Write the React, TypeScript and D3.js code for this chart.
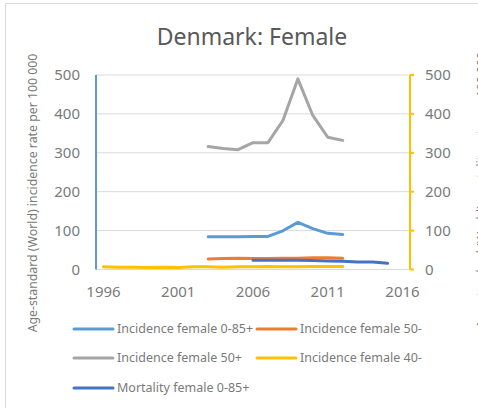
import React, { useEffect, useRef } from "react";
import * as d3 from "d3";

const years = d3.range(1996, 2017).map(String);
const yTicks = [0, 100, 200, 300, 400, 500];
const xTickLabels = ["1996", "2001", "2006", "2011", "2016"];

const years0385 = ["2003", "2004", "2005", "2006", "2007", "2008", "2009", "2010", "2011", "2012"];
const incidence085 = [84, 84, 84.5, 85, 85, 99.5, 121, 105, 93, 90];
const incidence50minus = [27, 28, 29, 28, 28, 29, 29, 30, 30, 29];
const incidence50plus = [316, 311, 308, 326, 326, 383, 490, 396, 340, 332];

const years40 = d3.range(1996, 2013).map(String);
const incidence40minus = [7, 6, 6, 5, 6, 5, 7, 7, 6, 7, 7, 8, 7, 7, 8, 8, 8];

const yearsMort = d3.range(2006, 2016).map(String);
const mortality085 = [24, 24, 24, 24, 23, 22, 21, 19, 19, 16];

const seriesNames = [
  "Incidence female 0-85+",
  "Incidence female 50-",
  "Incidence female 50+",
  "Incidence female 40-",
  "Mortality female 0-85+",
];
const colors = ["#5b9bd5", "#ed7d31", "#a5a5a5", "#ffc000", "#4472c4"];

const FONT = "'Noto Sans', 'Open Sans', sans-serif";

const App = () => {
  const ref = useRef<SVGSVGElement | null>(null);

  useEffect(() => {
    const svg = d3.select(ref.current);
    svg.selectAll("*").remove();

    const left = 96;
    const right = 410;
    const top = 75;
    const bottom = 269.5;

    const x = d3.scaleBand().domain(years).range([left, right]);
    const y = d3.scaleLinear().domain([0, 500]).range([bottom, top]);
    const cx = (d: string) => (x(d) as number) + x.bandwidth() / 2;

    // chart frame (left + top edge visible)
    svg.append("line").attr("x1", 5.5).attr("x2", 5.5).attr("y1", 3).attr("y2", 408)
      .attr("stroke", "#d9d9d9");
    svg.append("line").attr("x1", 5).attr("x2", 478).attr("y1", 3.5).attr("y2", 3.5)
      .attr("stroke", "#d9d9d9");

    svg.append("text")
      .attr("x", 252).attr("y", 45)
      .attr("text-anchor", "middle")
      .attr("font-family", FONT).attr("font-size", 23)
      .attr("fill", "#595959")
      .text("Denmark: Female");

    // gridlines
    svg.selectAll(".grid").data(yTicks.slice(1)).enter().append("line")
      .attr("x1", left).attr("x2", right)
      .attr("y1", (d) => y(d)).attr("y2", (d) => y(d))
      .attr("stroke", "#d9d9d9").attr("stroke-width", 1);
    svg.append("line").attr("x1", left).attr("x2", right).attr("y1", bottom).attr("y2", bottom)
      .attr("stroke", "#d9d9d9");

    // left axis
    svg.append("line").attr("x1", left).attr("x2", left).attr("y1", top).attr("y2", bottom)
      .attr("stroke", colors[0]).attr("stroke-width", 2);
    svg.selectAll(".ly").data(yTicks).enter().append("text")
      .attr("x", 80).attr("y", (d) => y(d))
      .attr("dy", "0.35em").attr("text-anchor", "end")
      .attr("font-family", FONT).attr("font-size", 15).attr("fill", "#7a7a7a")
      .text((d) => d);

    // right axis
    svg.append("line").attr("x1", right).attr("x2", right).attr("y1", top).attr("y2", bottom)
      .attr("stroke", colors[3]).attr("stroke-width", 2);
    svg.selectAll(".rt").data(yTicks).enter().append("line")
      .attr("x1", right).attr("x2", right + 4)
      .attr("y1", (d) => y(d)).attr("y2", (d) => y(d))
      .attr("stroke", colors[3]).attr("stroke-width", 2);
    svg.selectAll(".ry").data(yTicks).enter().append("text")
      .attr("x", 425).attr("y", (d) => y(d))
      .attr("dy", "0.35em").attr("text-anchor", "start")
      .attr("font-family", FONT).attr("font-size", 15).attr("fill", "#7a7a7a")
      .text((d) => d);

    // x labels
    svg.selectAll(".xl").data(xTickLabels).enter().append("text")
      .attr("x", (d) => cx(d)).attr("y", 292)
      .attr("dy", "0.35em").attr("text-anchor", "middle")
      .attr("font-family", FONT).attr("font-size", 15).attr("fill", "#7a7a7a")
      .text((d) => d);

    // axis titles (right one is cut by the image edge, as in the source)
    svg.append("text")
      .attr("transform", "translate(33,193) rotate(-90)")
      .attr("dy", "0.35em").attr("text-anchor", "middle")
      .attr("font-family", FONT).attr("font-size", 12.3).attr("fill", "#7a7a7a")
      .text("Age-standard (World) incidence rate per 100 000");
    svg.append("text")
      .attr("transform", "translate(482,190) rotate(-90)")
      .attr("dy", "0.35em").attr("text-anchor", "middle")
      .attr("font-family", FONT).attr("font-size", 12.3).attr("fill", "#7a7a7a")
      .text("Age-standard (World) mortality rate per 100 000");

    const line = d3.line<[string, number]>()
      .x((d) => cx(d[0]))
      .y((d) => y(d[1]));

    const series: [string, number][][] = [
      years0385.map((d, i) => [d, incidence085[i]]),
      years0385.map((d, i) => [d, incidence50minus[i]]),
      years0385.map((d, i) => [d, incidence50plus[i]]),
      years40.map((d, i) => [d, incidence40minus[i]]),
      yearsMort.map((d, i) => [d, mortality085[i]]),
    ];

    series.forEach((s, i) => {
      svg.append("path")
        .attr("d", line(s))
        .attr("fill", "none")
        .attr("stroke", colors[i])
        .attr("stroke-width", 3)
        .attr("stroke-linejoin", "round")
        .attr("stroke-linecap", "round");
    });

    // legend
    const legendPos = [
      [74, 329], [257, 329],
      [74, 358], [257, 358],
      [74, 388],
    ];
    seriesNames.forEach((name, i) => {
      const [lx, ly] = legendPos[i];
      svg.append("line")
        .attr("x1", lx).attr("x2", lx + 39).attr("y1", ly).attr("y2", ly)
        .attr("stroke", colors[i]).attr("stroke-width", 3).attr("stroke-linecap", "round");
      svg.append("text")
        .attr("x", lx + 43).attr("y", ly)
        .attr("dy", "0.35em")
        .attr("font-family", FONT).attr("font-size", 12.5).attr("fill", "#7a7a7a")
        .text(name);
    });
  }, []);

  return (
    <svg
      ref={ref}
      width={478}
      height={408}
      style={{ position: "absolute", left: 0, top: 0, background: "#fff" }}
    />
  );
};

export default App;
